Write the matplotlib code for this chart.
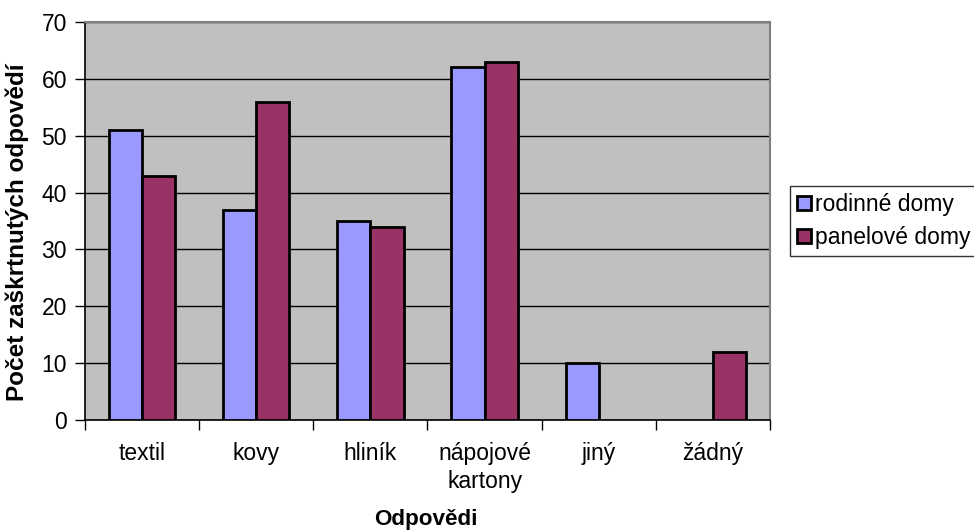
import matplotlib
matplotlib.use("Agg")
import matplotlib.pyplot as plt
import numpy as np

plt.rcParams['font.family'] = ['Liberation Sans', 'DejaVu Sans']

categories = ["textil", "kovy", "hliník", "nápojové\nkartony", "jiný", "žádný"]
rodinne = [51, 37, 35, 62, 10, 0]
panelove = [43, 56, 34, 63, 0, 12]
series_names = ["rodinné domy", "panelové domy"]
yticks = [0, 10, 20, 30, 40, 50, 60, 70]

fig = plt.figure(figsize=(9.74, 5.31), dpi=100)
W, H = 974, 531
ax = fig.add_axes([85 / W, 1 - 420 / H, (770 - 85) / W, (420 - 22) / H])
ax.set_facecolor("#C0C0C0")

x = np.arange(len(categories))
bw = 0.29
for i, (vals, col) in enumerate([(rodinne, "#9999FF"), (panelove, "#993366")]):
    xs = x + (i - 0.5) * bw
    ax.bar([xi for xi, v in zip(xs, vals) if v > 0], [v for v in vals if v > 0],
           width=bw, color=col, edgecolor="black", linewidth=2,
           label=series_names[i], zorder=3)

ax.set_xlim(-0.5, len(categories) - 0.5)
ax.set_ylim(0, 70)
ax.set_yticks(yticks)
ax.yaxis.grid(True, color="black", linewidth=1, zorder=1)
ax.set_axisbelow(True)

ax.set_xticks(x)
ax.set_xticklabels(categories, fontsize=16.5, linespacing=1.3)
ax.tick_params(axis="x", which="major", length=0, pad=15.5)
ax.set_xticks(np.arange(-0.5, len(categories) + 0.5, 1), minor=True)
ax.tick_params(axis="x", which="minor", length=7, width=1, direction="out")
ax.tick_params(axis="y", length=7, width=1, direction="out", labelsize=16.5, pad=6)

for s in ["top", "right"]:
    ax.spines[s].set_color("#808080")
    ax.spines[s].set_linewidth(1.5)
ax.spines["left"].set_linewidth(1.2)
ax.spines["bottom"].set_linewidth(1.2)

fig.text(17 / W, 1 - 232 / H, "Počet zaškrtnutých odpovědí", fontsize=17.5,
         fontweight="bold", rotation=90, ha="center", va="center")
fig.text(426 / W, 1 - 520 / H, "Odpovědi", fontsize=16.2, fontweight="bold",
         ha="center", va="center")

leg = ax.legend(loc="upper left", bbox_to_anchor=(790 / W, 1 - 186 / H),
                bbox_transform=fig.transFigure, fontsize=16.5, frameon=True,
                fancybox=False, edgecolor="black", handlelength=0.6,
                handleheight=0.6, handletextpad=0.2, borderpad=0.3,
                labelspacing=0.45, borderaxespad=0)
leg.get_frame().set_linewidth(1)

fig.savefig("out.png", dpi=100)
